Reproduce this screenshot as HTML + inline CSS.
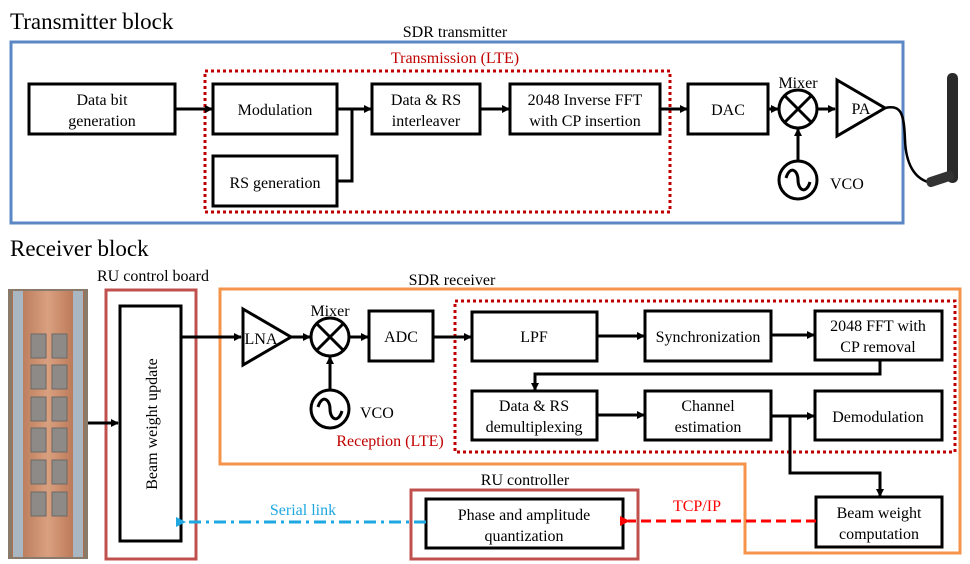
<!DOCTYPE html>
<html><head><meta charset="utf-8"><style>
html,body{margin:0;padding:0;background:#fff}
svg{display:block}
svg text{font-family:"Liberation Serif","Times New Roman",serif !important}
</style></head><body>
<svg width="970" height="564" viewBox="0 0 970 564" xmlns="http://www.w3.org/2000/svg" font-family="'Liberation Serif', 'Times New Roman', serif">
<defs>
<marker id="a" markerWidth="8" markerHeight="8" refX="7" refY="4" orient="auto" markerUnits="userSpaceOnUse"><path d="M0,0 L8,4 L0,8 z" fill="#000"/></marker>
<marker id="ar" markerWidth="10" markerHeight="10" refX="2" refY="5" orient="auto" markerUnits="userSpaceOnUse"><path d="M10,0 L0,5 L10,10 z" fill="#f00"/></marker>
<marker id="ab" markerWidth="10" markerHeight="10" refX="2" refY="5" orient="auto" markerUnits="userSpaceOnUse"><path d="M10,0 L0,5 L10,10 z" fill="#1ea7e1"/></marker>
<linearGradient id="cu" x1="0" x2="1"><stop offset="0" stop-color="#b0704f"/><stop offset="0.5" stop-color="#d9a080"/><stop offset="1" stop-color="#b06a48"/></linearGradient>
</defs>

<!-- Transmitter -->
<text x="10" y="29" font-size="23">Transmitter block</text>
<text x="455" y="37" font-size="16" text-anchor="middle">SDR transmitter</text>
<rect x="11" y="42" width="892" height="181" fill="none" stroke="#5b87c5" stroke-width="3"/>
<text x="455" y="63" font-size="16" text-anchor="middle" fill="#c00000">Transmission (LTE)</text>
<rect x="205" y="71" width="465" height="141" fill="none" stroke="#c00000" stroke-width="3" stroke-dasharray="3,3"/>

<g fill="#fff" stroke="#000" stroke-width="3">
<rect x="29" y="84" width="146" height="50"/>
<rect x="213" y="84" width="124" height="50"/>
<rect x="213" y="156" width="124" height="50"/>
<rect x="372" y="84" width="108" height="50"/>
<rect x="510" y="84" width="150" height="50"/>
<rect x="688" y="84" width="80" height="50"/>
</g>
<g font-size="16" text-anchor="middle">
<text x="102" y="105">Data bit</text><text x="102" y="126">generation</text>
<text x="275" y="115">Modulation</text>
<text x="275" y="188">RS generation</text>
<text x="426" y="105">Data &amp; RS</text><text x="426" y="126">interleaver</text>
<text x="585" y="105">2048 Inverse FFT</text><text x="585" y="126">with CP insertion</text>
<text x="728" y="115">DAC</text>
</g>
<g stroke="#000" stroke-width="3" fill="none">
<line x1="175" y1="109" x2="212" y2="109" marker-end="url(#a)"/>
<polyline points="337,109 352,109"/>
<polyline points="337,181 352,181 352,109 371,109" marker-end="url(#a)"/>
<line x1="480" y1="109" x2="509" y2="109" marker-end="url(#a)"/>
<line x1="660" y1="109" x2="687" y2="109" marker-end="url(#a)"/>
<line x1="768" y1="109" x2="778" y2="109" marker-end="url(#a)"/>
<circle cx="798" cy="109" r="19"/>
<line x1="785" y1="96" x2="811" y2="122"/><line x1="811" y1="96" x2="785" y2="122"/>
<line x1="818" y1="109" x2="835" y2="109" marker-end="url(#a)"/>
<polygon points="837,80 885,108 837,136"/>
<circle cx="798" cy="180" r="19"/>
<path d="M786,178 C790,165 798,170 798,180 C798,190 806,195 810,182"/>
<line x1="798" y1="161" x2="798" y2="129" marker-end="url(#a)"/>
<path d="M885,108 C902,104 904,115 905,140 C906,165 915,178 928,182" stroke-width="2.5"/>
</g>
<text x="798" y="88" font-size="16" text-anchor="middle">Mixer</text>
<text x="861" y="114" font-size="16" text-anchor="middle">PA</text>
<text x="830" y="189" font-size="16">VCO</text>
<!-- antenna -->
<rect x="947" y="73" width="11" height="110" rx="5" fill="#2a2a2a"/>
<rect x="926" y="174" width="28" height="10" rx="4" fill="#333" transform="rotate(-18 940 179)"/>

<!-- Receiver -->
<text x="10" y="256" font-size="23">Receiver block</text>
<text x="153" y="281" font-size="16" text-anchor="middle">RU control board</text>
<text x="452" y="285" font-size="16" text-anchor="middle">SDR receiver</text>

<!-- photo -->
<rect x="8" y="289" width="80" height="270" fill="#8a7a6a"/>
<rect x="12" y="291" width="72" height="266" fill="url(#cu)"/>
<rect x="13" y="291" width="10" height="266" fill="#a9b7c2"/>
<rect x="73" y="291" width="10" height="266" fill="#a9b7c2"/>
<g fill="#8d8a88" stroke="#6b6866" stroke-width="1">
<rect x="31" y="334" width="15" height="24"/><rect x="52" y="334" width="15" height="24"/>
<rect x="31" y="365" width="15" height="24"/><rect x="52" y="365" width="15" height="24"/>
<rect x="31" y="397" width="15" height="24"/><rect x="52" y="397" width="15" height="24"/>
<rect x="31" y="428" width="15" height="24"/><rect x="52" y="428" width="15" height="24"/>
<rect x="31" y="460" width="15" height="24"/><rect x="52" y="460" width="15" height="24"/>
<rect x="31" y="492" width="15" height="24"/><rect x="52" y="492" width="15" height="24"/>
</g>

<rect x="106" y="290" width="90" height="269" fill="none" stroke="#c0504d" stroke-width="3"/>
<rect x="120" y="306" width="61" height="235" fill="#fff" stroke="#000" stroke-width="3"/>
<text x="0" y="0" font-size="16" text-anchor="middle" transform="translate(157,424) rotate(-90)">Beam weight update</text>
<line x1="88" y1="423" x2="118" y2="423" stroke="#000" stroke-width="3" marker-end="url(#a)"/>

<path d="M220,289 L960,289 L960,553 L745,553 L745,464 L220,464 Z" fill="none" stroke="#f4934a" stroke-width="3"/>
<rect x="455" y="301" width="500" height="151" fill="none" stroke="#c00000" stroke-width="3" stroke-dasharray="3,3"/>
<text x="390" y="446" font-size="16" text-anchor="middle" fill="#c00000">Reception (LTE)</text>

<g fill="#fff" stroke="#000" stroke-width="3">
<rect x="369" y="311" width="64" height="50"/>
<rect x="472" y="312" width="125" height="49"/>
<rect x="645" y="311" width="126" height="50"/>
<rect x="815" y="311" width="127" height="49"/>
<rect x="472" y="391" width="125" height="49"/>
<rect x="645" y="391" width="126" height="49"/>
<rect x="815" y="391" width="127" height="49"/>
<rect x="816" y="497" width="126" height="50"/>
<rect x="426" y="499" width="197" height="49"/>
</g>
<rect x="411" y="490" width="227" height="69" fill="none" stroke="#c0504d" stroke-width="3"/>
<text x="525" y="485" font-size="16" text-anchor="middle">RU controller</text>

<g font-size="16" text-anchor="middle">
<text x="401" y="342">ADC</text>
<text x="534" y="342">LPF</text>
<text x="708" y="342">Synchronization</text>
<text x="878" y="331">2048 FFT with</text><text x="878" y="352">CP removal</text>
<text x="534" y="411">Data &amp; RS</text><text x="534" y="432">demultiplexing</text>
<text x="708" y="411">Channel</text><text x="708" y="432">estimation</text>
<text x="878" y="422">Demodulation</text>
<text x="879" y="518">Beam weight</text><text x="879" y="539">computation</text>
<text x="524" y="520">Phase and amplitude</text><text x="524" y="541">quantization</text>
</g>

<g stroke="#000" stroke-width="3" fill="none">
<line x1="181" y1="337" x2="241" y2="337" marker-end="url(#a)"/>
<polygon points="243,309 291,337 243,365"/>
<line x1="291" y1="337" x2="310" y2="337" marker-end="url(#a)"/>
<circle cx="330" cy="337" r="19"/>
<line x1="317" y1="324" x2="343" y2="350"/><line x1="343" y1="324" x2="317" y2="350"/>
<line x1="350" y1="337" x2="368" y2="337" marker-end="url(#a)"/>
<circle cx="330" cy="409" r="19"/>
<path d="M318,407 C322,394 330,399 330,409 C330,419 338,424 342,411"/>
<line x1="330" y1="390" x2="330" y2="357" marker-end="url(#a)"/>
<line x1="433" y1="337" x2="471" y2="337" marker-end="url(#a)"/>
<line x1="597" y1="336" x2="644" y2="336" marker-end="url(#a)"/>
<line x1="771" y1="335" x2="814" y2="335" marker-end="url(#a)"/>
<polyline points="880,360 880,374 535,374 535,390" marker-end="url(#a)"/>
<line x1="597" y1="415" x2="644" y2="415" marker-end="url(#a)"/>
<line x1="771" y1="416" x2="814" y2="416" marker-end="url(#a)"/>
<polyline points="790,416 790,473 880,473 880,496" marker-end="url(#a)"/>
</g>
<text x="261" y="344" font-size="16" text-anchor="middle">LNA</text>
<text x="330" y="316" font-size="16" text-anchor="middle">Mixer</text>
<text x="360" y="418" font-size="16">VCO</text>

<line x1="816" y1="521" x2="628" y2="521" stroke="#f00" stroke-width="3" stroke-dasharray="10,5" marker-end="url(#ar)"/>
<text x="697" y="511" font-size="16" text-anchor="middle" fill="#f00">TCP/IP</text>
<line x1="426" y1="522" x2="184" y2="522" stroke="#1ea7e1" stroke-width="3" stroke-dasharray="12,5,3,5" marker-end="url(#ab)"/>
<text x="303" y="515" font-size="16" text-anchor="middle" fill="#1ea7e1">Serial link</text>
</svg>
</body></html>
